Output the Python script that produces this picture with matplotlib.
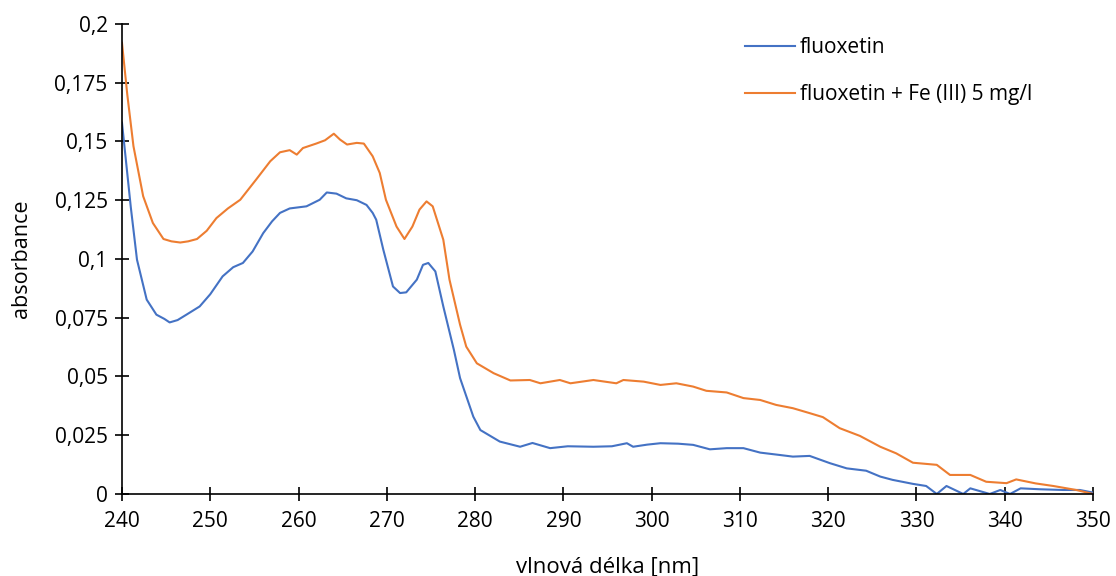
import matplotlib
matplotlib.use('Agg')
import matplotlib.pyplot as plt
from matplotlib.ticker import FuncFormatter, MultipleLocator

plt.rcParams['font.family'] = ['Open Sans', 'DejaVu Sans']

# fluoxetin
wl_blue = [240.0, 241.0, 241.7, 242.8, 243.9, 244.8, 245.4, 246.3, 247.3, 248.8, 250.0,
           251.4, 252.6, 253.7, 254.8, 256.0, 257.0, 257.9, 259.0, 260.9, 262.4, 263.2,
           264.3, 265.4, 266.6, 267.7, 268.4, 268.8, 269.6, 270.7, 271.5, 272.2, 273.4,
           274.1, 274.7, 275.5, 276.4, 277.6, 278.3, 279.8, 280.6, 282.8, 285.1, 286.5,
           288.5, 290.5, 293.4, 295.5, 297.2, 297.9, 299.5, 301.0, 303.0, 304.7, 306.6,
           308.5, 310.4, 312.3, 314.5, 316.0, 317.9, 320.2, 322.1, 324.3, 325.9, 327.3,
           329.6, 331.1, 332.3, 333.4, 335.3, 336.1, 338.3, 339.5, 340.6, 341.8, 344.0,
           346.6, 348.5, 350.0]
abs_blue = [0.158, 0.122, 0.0997, 0.0827, 0.0763, 0.0745, 0.0730, 0.0740, 0.0763, 0.0798, 0.0850,
            0.0926, 0.0965, 0.0983, 0.1032, 0.1110, 0.1160, 0.1196, 0.1215, 0.1224, 0.1252, 0.1283,
            0.1278, 0.1258, 0.1250, 0.1230, 0.1196, 0.1167, 0.1040, 0.0883, 0.0855, 0.0858, 0.0912,
            0.0975, 0.0983, 0.0947, 0.0798, 0.0613, 0.0493, 0.0329, 0.0272, 0.0223, 0.0201, 0.0217,
            0.0195, 0.0203, 0.0201, 0.0203, 0.0216, 0.0201, 0.0210, 0.0216, 0.0214, 0.0209, 0.0190,
            0.0195, 0.0195, 0.0176, 0.0166, 0.0159, 0.0162, 0.0131, 0.0109, 0.0099, 0.0074, 0.0060,
            0.0043, 0.0034, 0.0000, 0.0034, 0.0000, 0.0024, 0.0000, 0.0017, 0.0000, 0.0024, 0.0020,
            0.0017, 0.0017, 0.0006]

# fluoxetin + Fe (III) 5 mg/l
wl_orange = [240.0, 240.6, 241.3, 242.4, 243.5, 244.7, 245.6, 246.6, 247.5, 248.5, 249.6,
             250.7, 252.0, 253.4, 255.2, 256.8, 257.9, 259.0, 259.8, 260.5, 262.0, 263.0,
             264.0, 264.7, 265.5, 266.6, 267.4, 268.4, 269.2, 269.9, 271.1, 272.0, 272.9,
             273.7, 274.5, 275.2, 276.4, 277.1, 278.3, 279.0, 280.2, 282.1, 284.0, 286.2,
             287.4, 289.6, 290.8, 293.4, 296.0, 296.8, 299.1, 301.0, 302.8, 304.7, 306.2,
             308.5, 310.4, 312.3, 314.1, 316.0, 317.9, 319.4, 321.3, 323.6, 325.9, 327.7,
             329.6, 332.3, 333.8, 336.1, 337.9, 340.2, 341.3, 343.5, 345.5, 348.1, 350.0]
abs_orange = [0.192, 0.170, 0.148, 0.1267, 0.1153, 0.1085, 0.1075, 0.1070, 0.1075, 0.1085, 0.1120,
              0.1174, 0.1215, 0.1252, 0.1338, 0.1416, 0.1454, 0.1463, 0.1444, 0.1472, 0.1491, 0.1505,
              0.1533, 0.1508, 0.1487, 0.1494, 0.1491, 0.1437, 0.1366, 0.1252, 0.1138, 0.1085, 0.1138,
              0.1210, 0.1245, 0.1224, 0.1082, 0.0912, 0.0720, 0.0627, 0.0556, 0.0514, 0.0483, 0.0485,
              0.0471, 0.0485, 0.0471, 0.0485, 0.0471, 0.0485, 0.0478, 0.0464, 0.0471, 0.0457, 0.0439,
              0.0432, 0.0408, 0.0400, 0.0379, 0.0365, 0.0344, 0.0327, 0.0280, 0.0247, 0.0201, 0.0173,
              0.0133, 0.0124, 0.0081, 0.0081, 0.0052, 0.0046, 0.0062, 0.0045, 0.0034, 0.0017, 0.0000]

fig = plt.figure(figsize=(11.16, 5.76), dpi=100)
ax = fig.add_axes([0.1093, 0.1424, 0.8701, 0.8160])

ax.plot(wl_blue, abs_blue, color='#4472C4', lw=1.5, label='fluoxetin')
ax.plot(wl_orange, abs_orange, color='#ED7D31', lw=1.5, label='fluoxetin + Fe (III) 5 mg/l')

ax.set_xlim(240, 350)
ax.set_ylim(0, 0.2)
ax.xaxis.set_major_locator(MultipleLocator(10))
ax.yaxis.set_major_locator(MultipleLocator(0.025))
ax.yaxis.set_major_formatter(FuncFormatter(lambda v, p: ('%g' % round(v, 4)).replace('.', ',')))

for s in ['top', 'right']:
    ax.spines[s].set_visible(False)
for s in ['left', 'bottom']:
    ax.spines[s].set_linewidth(1.2)
ax.tick_params(direction='inout', length=10.5, width=1.2, labelsize=15, pad=5)
ax.tick_params(axis='x', pad=7)

ax.set_xlabel('vlnová délka [nm]', fontsize=16, labelpad=18)
ax.set_ylabel('absorbance', fontsize=15.5, labelpad=16)

ax.legend(loc='upper left', bbox_to_anchor=(0.622, 1.012), frameon=False, fontsize=15,
          handlelength=2.4, handletextpad=0.25, labelspacing=1.25)

plt.savefig('out.png', dpi=100)
